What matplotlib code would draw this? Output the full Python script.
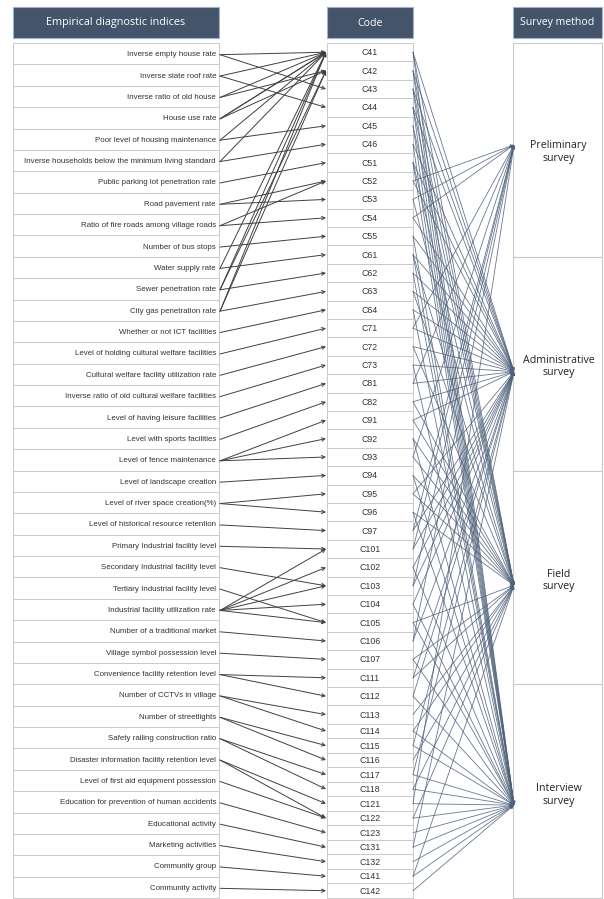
import matplotlib
matplotlib.use("Agg")
import matplotlib.pyplot as plt
from matplotlib.patches import Rectangle

# --- data -----------------------------------------------------------------
INDICES = [
    "Inverse empty house rate",
    "Inverse slate roof rate",
    "Inverse ratio of old house",
    "House use rate",
    "Poor level of housing maintenance",
    "Inverse households below the minimum living standard",
    "Public parking lot penetration rate",
    "Road pavement rate",
    "Ratio of fire roads among village roads",
    "Number of bus stops",
    "Water supply rate",
    "Sewer penetration rate",
    "City gas penetration rate",
    "Whether or not ICT facilities",
    "Level of holding cultural welfare facilities",
    "Cultural welfare facility utilization rate",
    "Inverse ratio of old cultural welfare facilities",
    "Level of having leisure facilities",
    "Level with sports facilities",
    "Level of fence maintenance",
    "Level of landscape creation",
    "Level of river space creation(%)",
    "Level of historical resource retention",
    "Primary Industrial facility level",
    "Secondary Industrial facility level",
    "Tertiary Industrial facility level",
    "Industrial facility utilization rate",
    "Number of a traditional market",
    "Village symbol possession level",
    "Convenience facility retention level",
    "Number of CCTVs in village",
    "Number of streetlights",
    "Safety railing construction ratio",
    "Disaster information facility retention level",
    "Level of first aid equipment possession",
    "Education for prevention of human accidents",
    "Educational activity",
    "Marketing activities",
    "Community group",
    "Community activity",
]

CODES = [
    "C41", "C42", "C43", "C44", "C45", "C46",
    "C51", "C52", "C53", "C54", "C55",
    "C61", "C62", "C63", "C64",
    "C71", "C72", "C73",
    "C81", "C82",
    "C91", "C92", "C93", "C94", "C95", "C96", "C97",
    "C101", "C102", "C103", "C104", "C105", "C106", "C107",
    "C111", "C112", "C113", "C114", "C115", "C116", "C117", "C118",
    "C121", "C122", "C123",
    "C131", "C132",
    "C141", "C142",
]

METHODS = ["Preliminary\nsurvey", "Administrative\nsurvey", "Field\nsurvey", "Interview\nsurvey"]

# index -> codes
INDEX_LINKS = [
    ["C41", "C43"],
    ["C41", "C44"],
    ["C41", "C42"],
    ["C41", "C42", "C41"],
    ["C41", "C45"],
    ["C41", "C46"],
    ["C51"],
    ["C52", "C53"],
    ["C52", "C54"],
    ["C55"],
    ["C41", "C61"],
    ["C41", "C42", "C62"],
    ["C41", "C42", "C63"],
    ["C64"],
    ["C71"],
    ["C72"],
    ["C73"],
    ["C81"],
    ["C82"],
    ["C91", "C92", "C93"],
    ["C94"],
    ["C95", "C96"],
    ["C97"],
    ["C101"],
    ["C103"],
    ["C105"],
    ["C101", "C102", "C103", "C104", "C105"],
    ["C106"],
    ["C107"],
    ["C111", "C112"],
    ["C113", "C114"],
    ["C115", "C116"],
    ["C117", "C118"],
    ["C121", "C122"],
    ["C122"],
    ["C123"],
    ["C131"],
    ["C132"],
    ["C141"],
    ["C142"],
]

# code -> survey methods (0 prelim, 1 admin, 2 field, 3 interview)
CODE_LINKS = [
    [1, 2, 3], [1, 2, 3], [1, 2, 3], [1, 2, 3], [2, 3], [1, 3],
    [1, 2, 3], [0, 1], [0, 2], [0, 1], [1, 3],
    [1, 2, 3], [1, 3], [1, 2], [1, 3],
    [0, 1], [1, 2], [1, 3],
    [0, 1], [1, 2],
    [1, 2], [2, 3], [0, 2], [2, 3], [1, 2], [2, 3], [0, 1],
    [0, 1], [1, 3], [0, 1], [1, 3], [2, 3], [0, 1], [2, 3],
    [1, 2], [1, 3], [2], [2, 3], [1, 3], [2], [1, 3], [2, 3],
    [0, 3], [2, 3], [3],
    [1, 3], [3],
    [2, 3], [3],
]

# --- layout (pixel space) --------------------------------------------------
W, H = 604, 899
TOP, BOT = 43, 898
LX0, LX1 = 13, 219
CX0, CX1 = 327, 413
MX0, MX1 = 513, 602
HEAD_Y0, HEAD_Y1 = 7, 38
N_TALL = 37          # codes C41..C113 sit in taller rows
TALL_H = 18.4
METHOD_TEXT_DY = [2, 3, 3, 4]
METHOD_ARROW_DY = [-5, 8, 8, 14]

HEAD_FC = "#44546a"
HEAD_EC = "#9fb4cc"
GRID_EC = "#c9c9c9"
LEFT_LINE = "#404040"
RIGHT_LINE = "#4f617b"


def header(ax, x0, x1, text, size):
    ax.add_patch(Rectangle((x0, HEAD_Y0), x1 - x0, HEAD_Y1 - HEAD_Y0, facecolor=HEAD_FC,
                           edgecolor=HEAD_EC, lw=0.8))
    ax.text((x0 + x1) / 2, (HEAD_Y0 + HEAD_Y1) / 2 + 0.5, text, ha="center", va="center",
            color="white", fontsize=size, family="Open Sans")


def main():
    fig = plt.figure(figsize=(W / 100, H / 100), dpi=100)
    ax = fig.add_axes([0, 0, 1, 1])
    ax.set_xlim(0, W)
    ax.set_ylim(H, 0)
    ax.axis("off")

    header(ax, LX0, LX1, "Empirical diagnostic indices", 7.8)
    header(ax, CX0, CX1, "Code", 7.6)
    header(ax, MX0, MX1, "Survey method", 7.6)

    # left column rows
    row_h = (BOT - TOP) / len(INDICES)
    idx_y = []
    for i, label in enumerate(INDICES):
        y0 = TOP + i * row_h
        ax.add_patch(Rectangle((LX0, y0), LX1 - LX0, row_h, facecolor="white", edgecolor=GRID_EC, lw=0.7))
        yc = y0 + row_h / 2 + 1
        idx_y.append(yc)
        ax.text(LX1 - 3, yc, label, ha="right", va="center", fontsize=5.7,
                family="Liberation Sans", color="#333333")

    # code column rows
    short_h = (BOT - TOP - N_TALL * TALL_H) / (len(CODES) - N_TALL)
    code_y = {}
    y0 = TOP
    for i, code in enumerate(CODES):
        h = TALL_H if i < N_TALL else short_h
        ax.add_patch(Rectangle((CX0, y0), CX1 - CX0, h, facecolor="white", edgecolor=GRID_EC, lw=0.7))
        code_y[code] = y0 + h / 2
        ax.text((CX0 + CX1) / 2, y0 + h / 2 + 0.5, code, ha="center", va="center", fontsize=6.3,
                family="Liberation Sans", color="#333333")
        y0 += h

    # survey method boxes
    box_h = (BOT - TOP) / len(METHODS)
    targets = []
    for j, name in enumerate(METHODS):
        y0 = TOP + j * box_h
        ax.add_patch(Rectangle((MX0, y0), MX1 - MX0, box_h, facecolor="white", edgecolor=GRID_EC, lw=0.8))
        yc = y0 + box_h / 2
        ax.text((MX0 + MX1) / 2 + 1, yc + METHOD_TEXT_DY[j], name, ha="center", va="center",
                fontsize=7.7, family="Open Sans", color="#222222", linespacing=1.2)
        targets.append(yc + METHOD_ARROW_DY[j])

    # index -> code arrows
    for i, links in enumerate(INDEX_LINKS):
        for code in links:
            ax.annotate("", xy=(CX0 - 1, code_y[code]), xytext=(LX1 + 1, idx_y[i]),
                        arrowprops=dict(arrowstyle="->", color=LEFT_LINE, lw=0.7,
                                        shrinkA=0, shrinkB=0, mutation_scale=6))

    # code -> method arrows
    for code, links in zip(CODES, CODE_LINKS):
        for j in links:
            ax.annotate("", xy=(MX0 + 1, targets[j]), xytext=(CX1, code_y[code]),
                        arrowprops=dict(arrowstyle="-|>", color=RIGHT_LINE, lw=0.6, alpha=0.85,
                                        shrinkA=0, shrinkB=0, mutation_scale=5))

    fig.savefig("out.png", dpi=100)
    plt.close(fig)


if __name__ == "__main__":
    main()
